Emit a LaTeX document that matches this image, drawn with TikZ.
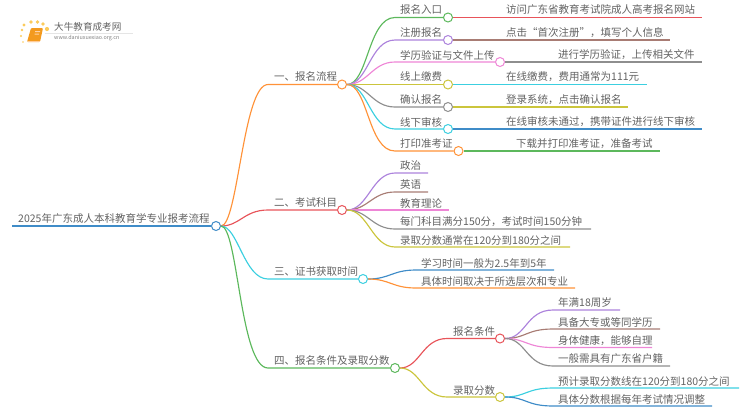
\documentclass[tikz,border=0pt]{standalone}
\usepackage{fontspec}
\setmainfont{Noto Sans CJK SC}
\definecolor{txtgray}{HTML}{626262}
\definecolor{lblue}{HTML}{3F8CC8}
\definecolor{lorange}{HTML}{FF9238}
\definecolor{lred}{HTML}{E8545A}
\definecolor{lcyan}{HTML}{3CCFE0}
\definecolor{lgreen}{HTML}{5CB85C}
\definecolor{lpurple}{HTML}{AC82DC}
\definecolor{lbrown}{HTML}{A87C74}
\definecolor{lpink}{HTML}{EE86D6}
\definecolor{lgray}{HTML}{8E8E8E}
\definecolor{lolive}{HTML}{CBC53C}
\definecolor{logodot}{HTML}{FBCB5C}
\definecolor{logobook}{HTML}{F39A1E}
\begin{document}
\begin{tikzpicture}[x=1pt,y=-1pt,
lbl/.style={anchor=west,inner sep=0pt,text=txtgray,font=\fontsize{10.5}{12}\selectfont},
dot/.style={circle,draw=#1,fill=white,line width=1pt,minimum size=9pt,inner sep=0pt},
br/.style={draw=#1,line width=1.15pt}]
\useasboundingbox (0,0) rectangle (750,410);
% logo
\fill[logodot] (24,25) circle (1.6) (31,22) circle (1.8) (37.5,22) circle (1.8) (43,24) circle (1.8) (47,29) circle (2.1) (22,30) circle (1.3) (21,36) circle (1.1) (23,42) circle (0.9);
\fill[logobook,rounded corners=1pt] (31,28) -- (43,28) -- (40,42) -- (27,42) -- cycle;
\fill[orange!40!white] (28,40.5) -- (39.5,40.5) -- (39.5,41.5) -- (28,41.5) -- cycle;
\fill[orange!35!white] (35,31) rectangle (40,32) (34.5,33.5) rectangle (39,34.5);
\draw[gray!20,line width=0.4pt] (45,33.5) -- (133,33.5);
\node[anchor=west,inner sep=0pt,text=txtgray,font=\fontsize{9.6}{11}\selectfont] (logoname) at (54,27) {大牛教育成考网};
\node[anchor=west,inner sep=0pt,text=gray,font=\fontsize{5.4}{7}\selectfont] (logourl) at (54,38.5) {www.daniuxuexiao.org.cn};
% circles
\node[dot=lblue] (root) at (216,226) {};
\node[dot=lorange] (liucheng) at (342,84.5) {};
\node[dot=lred] (kemu) at (342,210) {};
\node[dot=lcyan] (shijian) at (363,279) {};
\node[dot=lgreen] (fenshu) at (395,368) {};
\node[dot=lgreen] (rukou) at (448,17.5) {};
\node[dot=lpurple] (zhuce) at (448,40) {};
\node[dot=lpink] (yanzheng) at (500,62) {};
\node[dot=lolive] (jiaofei) at (448,84.5) {};
\node[dot=lgray] (queren) at (448,107) {};
\node[dot=lcyan] (shenhe) at (448,129) {};
\node[dot=lorange] (dayin) at (458.5,151) {};
\node[dot=lred] (tiaojian) at (500,338.5) {};
\node[dot=lolive] (luqu) at (500,397) {};
% free line ends
\coordinate (rootend) at (12,226);
\coordinate (e1) at (702,17.5);
\coordinate (e2) at (670,40);
\coordinate (e3) at (702,62);
\coordinate (e4) at (647,84.5);
\coordinate (e5) at (628,107);
\coordinate (e6) at (702,129);
\coordinate (e7) at (660,151);
\coordinate (k1) at (428,173);
\coordinate (k2) at (428,192);
\coordinate (k3) at (449,210);
\coordinate (k4) at (591,229);
\coordinate (k5) at (570,247);
\coordinate (s1) at (554,270);
\coordinate (s2) at (575,288);
\coordinate (t1) at (620,310);
\coordinate (t2) at (660,329);
\coordinate (t3) at (652,347.5);
\coordinate (t4) at (670,366);
\coordinate (f1) at (739,388);
\coordinate (f2) at (712,406);
% root branches
\draw[br=lblue] (root.west) -- (rootend);
\draw[br=lorange] (root.east) .. controls (238,226) and (243,84.5) .. (268,84.5) -- (liucheng.west);
\draw[br=lred] (root.east) .. controls (240,226) and (244,210) .. (268,210) -- (kemu.west);
\draw[br=lcyan] (root.east) .. controls (238,226) and (244,279) .. (268,279) -- (shijian.west);
\draw[br=lgreen] (root.east) .. controls (238,226) and (240,368) .. (268,368) -- (fenshu.west);
% first branch
\draw[br=lgreen] (liucheng.east) .. controls (368,84.5) and (368,17.5) .. (395,17.5) -- (rukou.west);
\draw[br=lpurple] (liucheng.east) .. controls (368,84.5) and (370,40) .. (395,40) -- (zhuce.west);
\draw[br=lpink] (liucheng.east) .. controls (368,84.5) and (372,62) .. (395,62) -- (yanzheng.west);
\draw[br=lolive] (liucheng.east) -- (jiaofei.west);
\draw[br=lgray] (liucheng.east) .. controls (368,84.5) and (372,107) .. (395,107) -- (queren.west);
\draw[br=lcyan] (liucheng.east) .. controls (368,84.5) and (370,129) .. (395,129) -- (shenhe.west);
\draw[br=lorange] (liucheng.east) .. controls (368,84.5) and (368,151) .. (395,151) -- (dayin.west);
\draw[br=lred] (rukou.east) -- (e1);
\draw[br=lbrown] (zhuce.east) -- (e2);
\draw[br=lgray] (yanzheng.east) -- (e3);
\draw[br=lcyan] (jiaofei.east) -- (e4);
\draw[br=lolive] (queren.east) -- (e5);
\draw[br=lblue] (shenhe.east) -- (e6);
\draw[br=lgreen] (dayin.east) -- (e7);
% second branch
\draw[br=lpurple] (kemu.east) .. controls (368,210) and (372,173) .. (395,173) -- (k1);
\draw[br=lbrown] (kemu.east) .. controls (368,210) and (372,192) .. (395,192) -- (k2);
\draw[br=lpink] (kemu.east) -- (k3);
\draw[br=lgray] (kemu.east) .. controls (368,210) and (372,229) .. (395,229) -- (k4);
\draw[br=lolive] (kemu.east) .. controls (368,210) and (372,247) .. (395,247) -- (k5);
% third branch
\draw[br=lblue] (shijian.east) .. controls (390,279) and (392,270) .. (416,270) -- (s1);
\draw[br=lorange] (shijian.east) .. controls (390,279) and (392,288) .. (416,288) -- (s2);
% fourth branch
\draw[br=lred] (fenshu.east) .. controls (420,368) and (422,338.5) .. (447,338.5) -- (tiaojian.west);
\draw[br=lolive] (fenshu.east) .. controls (420,368) and (422,397) .. (447,397) -- (luqu.west);
\draw[br=lpurple] (tiaojian.east) .. controls (526,338.5) and (526,310) .. (553,310) -- (t1);
\draw[br=lbrown] (tiaojian.east) .. controls (526,338.5) and (526,329) .. (553,329) -- (t2);
\draw[br=lpink] (tiaojian.east) .. controls (526,338.5) and (526,347.5) .. (553,347.5) -- (t3);
\draw[br=lgray] (tiaojian.east) .. controls (526,338.5) and (526,366) .. (553,366) -- (t4);
\draw[br=lcyan] (luqu.east) .. controls (526,397) and (526,388) .. (553,388) -- (f1);
\draw[br=lblue] (luqu.east) .. controls (526,397) and (526,406) .. (553,406) -- (f2);
% labels
\node[lbl] (roottxt) at (18,218.5) {2025年广东成人本科教育学专业报考流程};
\node[lbl] (a1) at (274,77) {一、报名流程};
\node[lbl] (a2) at (274,202.5) {二、考试科目};
\node[lbl] (a3) at (274,271.5) {三、证书获取时间};
\node[lbl] (a4) at (274,360.5) {四、报名条件及录取分数};
\node[lbl] (b1) at (400,10) {报名入口};
\node[lbl] (b2) at (400,32.5) {注册报名};
\node[lbl] (b3) at (400,55) {学历验证与文件上传};
\node[lbl] (b4) at (400,77) {线上缴费};
\node[lbl] (b5) at (400,100) {确认报名};
\node[lbl] (b6) at (400,122) {线下审核};
\node[lbl] (b7) at (400,144) {打印准考证};
\node[lbl] (c1) at (506,10) {访问广东省教育考试院成人高考报名网站};
\node[lbl] (c2) at (506,32.5) {点击“首次注册”，填写个人信息};
\node[lbl] (c3) at (558,55) {进行学历验证，上传相关文件};
\node[lbl] (c4) at (506,77) {在线缴费，费用通常为111元};
\node[lbl] (c5) at (506,100) {登录系统，点击确认报名};
\node[lbl] (c6) at (506,122) {在线审核未通过，携带证件进行线下审核};
\node[lbl] (c7) at (516,144) {下载并打印准考证，准备考试};
\node[lbl] (d1) at (400,166) {政治};
\node[lbl] (d2) at (400,185) {英语};
\node[lbl] (d3) at (400,203) {教育理论};
\node[lbl] (d4) at (400,222) {每门科目满分150分，考试时间150分钟};
\node[lbl] (d5) at (400,240.5) {录取分数通常在120分到180分之间};
\node[lbl] (g1) at (421,263) {学习时间一般为2.5年到5年};
\node[lbl] (g2) at (421,281.5) {具体时间取决于所选层次和专业};
\node[lbl] (h1) at (453,331.5) {报名条件};
\node[lbl] (h2) at (453,390.5) {录取分数};
\node[lbl] (m1) at (558,303) {年满18周岁};
\node[lbl] (m2) at (558,322) {具备大专或等同学历};
\node[lbl] (m3) at (558,340.5) {身体健康，能够自理};
\node[lbl] (m4) at (558,359) {一般需具有广东省户籍};
\node[lbl] (n1) at (558,381) {预计录取分数线在120分到180分之间};
\node[lbl] (n2) at (558,399) {具体分数根据每年考试情况调整};
\end{tikzpicture}
\end{document}
